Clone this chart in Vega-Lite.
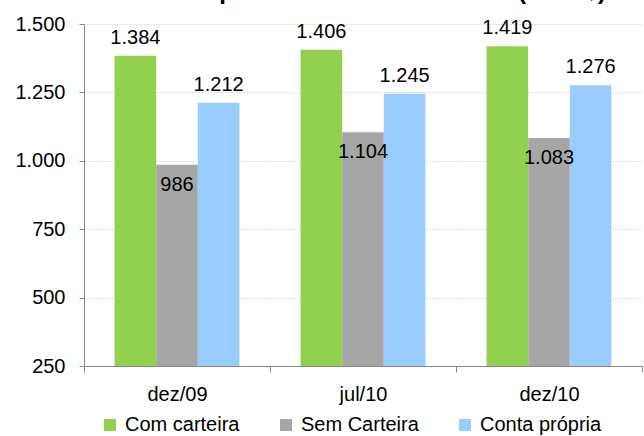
{
  "$schema": "https://vega.github.io/schema/vega-lite/v6.json",
  "width": 558,
  "height": 342,
  "autosize": {"type": "none"},
  "padding": {"left": 84, "top": 24, "right": 2, "bottom": 70},
  "config": {
    "font": "Liberation Sans",
    "view": {"stroke": null},
    "locale": {"number": {"decimal": ",", "thousands": ".", "grouping": [3], "currency": ["R$", ""]}}
  },
  "title": {
    "text": "Rendimento médio real habitualmente recebido Setor privado – Dez/09 a Dez/10 (em R$)",
    "anchor": "end",
    "frame": "group",
    "dx": -36,
    "dy": 10,
    "offset": 1,
    "fontSize": 24,
    "fontWeight": "bold",
    "color": "#000000",
    "baseline": "alphabetic"
  },
  "data": {
    "values": [
      {"periodo": "dez/09", "tipo": "Com carteira", "valor": 1384},
      {"periodo": "dez/09", "tipo": "Sem Carteira", "valor": 986},
      {"periodo": "dez/09", "tipo": "Conta própria", "valor": 1212},
      {"periodo": "jul/10", "tipo": "Com carteira", "valor": 1406},
      {"periodo": "jul/10", "tipo": "Sem Carteira", "valor": 1104},
      {"periodo": "jul/10", "tipo": "Conta própria", "valor": 1245},
      {"periodo": "dez/10", "tipo": "Com carteira", "valor": 1419},
      {"periodo": "dez/10", "tipo": "Sem Carteira", "valor": 1083},
      {"periodo": "dez/10", "tipo": "Conta própria", "valor": 1276}
    ]
  },
  "encoding": {
    "x": {
      "field": "periodo",
      "type": "nominal",
      "sort": ["dez/09", "jul/10", "dez/10"],
      "scale": {"paddingInner": 0, "paddingOuter": 0},
      "axis": {
        "title": null,
        "labelAngle": 0,
        "labelFontSize": 20,
        "labelColor": "#000000",
        "labelPadding": 12,
        "tickSize": 6,
        "tickColor": "#868686",
        "domainColor": "#868686",
        "tickBand": "extent",
        "zindex": 1
      }
    },
    "xOffset": {
      "field": "tipo",
      "type": "nominal",
      "sort": ["Com carteira", "Sem Carteira", "Conta própria"],
      "scale": {"paddingInner": 0, "paddingOuter": 0.735}
    },
    "y": {
      "field": "valor",
      "type": "quantitative",
      "scale": {"domain": [250, 1500], "zero": false, "nice": false},
      "axis": {
        "title": null,
        "values": [250, 500, 750, 1000, 1250, 1500],
        "format": ",d",
        "labelFontSize": 20,
        "labelColor": "#000000",
        "labelPadding": 14,
        "tickSize": 5,
        "tickColor": "#868686",
        "domainColor": "#868686",
        "gridColor": "#bfbfbf",
        "gridDash": [1, 2],
        "gridWidth": 1
      }
    }
  },
  "layer": [
    {
      "mark": {"type": "bar"},
      "encoding": {
        "y2": {"datum": 250},
        "color": {
          "field": "tipo",
          "type": "nominal",
          "scale": {
            "domain": ["Com carteira", "Sem Carteira", "Conta própria"],
            "range": ["#92D050", "#A6A6A6", "#99CCFF"]
          },
          "legend": {
            "title": null,
            "orient": "none",
            "legendX": 16,
            "legendY": 391,
            "direction": "horizontal",
            "symbolType": "square",
            "symbolSize": 144,
            "symbolStrokeWidth": 0,
            "symbolOpacity": 1,
            "labelFontSize": 20,
            "labelColor": "#000000",
            "labelOffset": 5,
            "columnPadding": 36
          }
        }
      }
    },
    {
      "transform": [{"filter": "datum.tipo !== 'Sem Carteira'"}],
      "mark": {"type": "text", "baseline": "alphabetic", "dy": -12, "fontSize": 20, "color": "#000000"},
      "encoding": {"text": {"field": "valor", "type": "quantitative", "format": ",d"}}
    },
    {
      "transform": [{"filter": "datum.tipo === 'Sem Carteira'"}],
      "mark": {"type": "text", "baseline": "top", "dy": 10, "fontSize": 20, "color": "#000000"},
      "encoding": {"text": {"field": "valor", "type": "quantitative", "format": ",d"}}
    }
  ]
}
